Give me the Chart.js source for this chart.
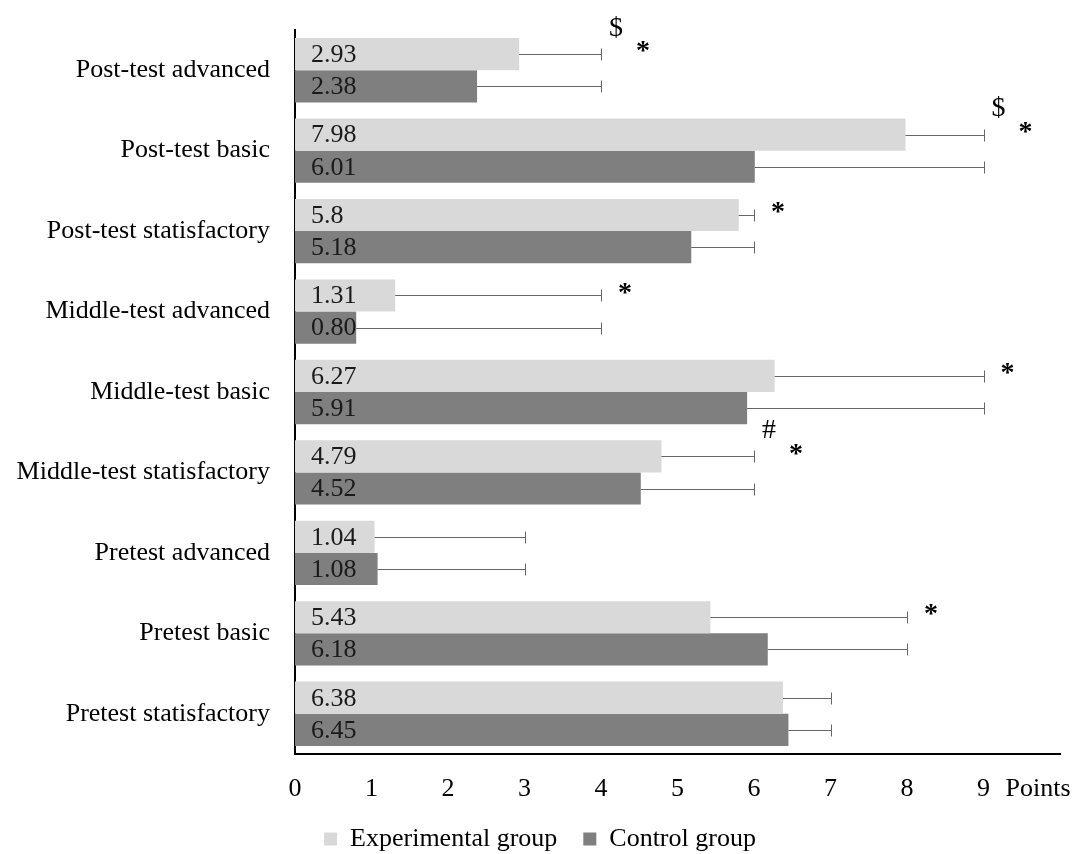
<!DOCTYPE html>
<html>
<head>
<meta charset="utf-8">
<script src="https://cdn.jsdelivr.net/npm/chart.js@4.4.0/dist/chart.umd.min.js"></script>
<style>
  html, body { margin: 0; padding: 0; background: #fff; }
  #wrap { width: 1076px; height: 854px; }
</style>
</head>
<body>
<div id="wrap"><canvas id="barChart"></canvas></div>
<script>
const categories = [
    'Post-test advanced', 'Post-test basic', 'Post-test statisfactory',
    'Middle-test advanced', 'Middle-test basic', 'Middle-test statisfactory',
    'Pretest advanced', 'Pretest basic', 'Pretest statisfactory'
];
const experimentalValues = [2.93, 7.98, 5.8, 1.31, 6.27, 4.79, 1.04, 5.43, 6.38];
const controlValues = [2.38, 6.01, 5.18, 0.80, 5.91, 4.52, 1.08, 6.18, 6.45];
const experimentalText = ['2.93', '7.98', '5.8', '1.31', '6.27', '4.79', '1.04', '5.43', '6.38'];
const controlText = ['2.38', '6.01', '5.18', '0.80', '5.91', '4.52', '1.08', '6.18', '6.45'];
const errorUpper = [4, 9, 6, 4, 9, 6, 3, 8, 7];
const upperMarks = ['$', '$', '', '', '', '#', '', '', ''];
const starMarks = ['*', '*', '*', '*', '*', '*', '', '*', ''];
const xTickLabels = ['0', '1', '2', '3', '4', '5', '6', '7', '8', '9'];
const xUnit = 'Points';

const FONT = '"Liberation Serif", "Times New Roman", serif';
Chart.defaults.font.family = FONT;
Chart.defaults.color = '#000';

// error bars, value labels, significance marks and the axis unit
const overlayPlugin = {
    id: 'overlay',
    afterLayout(chart) {
        // legend sits a little right of centre in the original
        chart.legend.left += 10;
        chart.legend.right += 10;
    },
    afterDatasetsDraw(chart) {
        const ctx = chart.ctx;
        const xs = chart.scales.x;
        const ys = chart.scales.y;
        const texts = [experimentalText, controlText];
        ctx.save();
        chart.data.datasets.forEach((ds, d) => {
            const meta = chart.getDatasetMeta(d);
            meta.data.forEach((bar, i) => {
                const endX = Math.round(xs.getPixelForValue(errorUpper[i])) + 0.5;
                const y = Math.round(bar.y) + 0.5;
                ctx.strokeStyle = '#666';
                ctx.lineWidth = 1;
                ctx.beginPath();
                ctx.moveTo(bar.x, y);
                ctx.lineTo(endX, y);
                ctx.moveTo(endX, y - 6);
                ctx.lineTo(endX, y + 6);
                ctx.stroke();

                ctx.fillStyle = '#1a1a1a';
                ctx.font = '26px ' + FONT;
                ctx.textAlign = 'left';
                ctx.textBaseline = 'middle';
                ctx.fillText(texts[d][i], xs.left + 16, bar.y + 1);
            });
        });

        const band = ys.getPixelForValue(1) - ys.getPixelForValue(0);
        ctx.fillStyle = '#000';
        ctx.textAlign = 'center';
        ctx.textBaseline = 'middle';
        categories.forEach((c, i) => {
            const endX = xs.getPixelForValue(errorUpper[i]);
            const cy = ys.getPixelForValue(i);
            if (upperMarks[i]) {
                ctx.font = '28px ' + FONT;
                ctx.fillText(upperMarks[i], endX + 15, cy - 0.52 * band);
            }
            if (starMarks[i]) {
                ctx.font = 'bold 28px ' + FONT;
                ctx.fillText(starMarks[i], endX + (upperMarks[i] ? 42 : 24), cy - 0.3 * band + 6);
            }
        });

        ctx.font = '26px ' + FONT;
        ctx.textAlign = 'left';
        ctx.fillText(xUnit, xs.getPixelForValue(9) + 22, xs.top + 35);
        ctx.restore();
    }
};

function setupBarChart() {
    const barCtx = document.getElementById('barChart').getContext('2d');
    return new Chart(barCtx, {
        type: 'bar',
        data: {
            labels: categories,
            datasets: [{
                label: 'Experimental group',
                data: experimentalValues,
                backgroundColor: '#d9d9d9',
                categoryPercentage: 0.8,
                barPercentage: 1.0
            },
            {
                label: 'Control group',
                data: controlValues,
                backgroundColor: '#7f7f7f',
                categoryPercentage: 0.8,
                barPercentage: 1.0
            }]
        },
        options: {
            indexAxis: 'y',
            responsive: true,
            maintainAspectRatio: false,
            animation: false,
            layout: {
                padding: { top: 30, right: 16, bottom: -8, left: 0 }
            },
            plugins: {
                legend: {
                    position: 'bottom',
                    labels: {
                        boxWidth: 13,
                        boxHeight: 13,
                        padding: 26,
                        color: '#000',
                        font: { size: 26 }
                    }
                },
                tooltip: { enabled: false }
            },
            scales: {
                x: {
                    min: 0,
                    max: 10,
                    grid: { display: false, drawTicks: false },
                    border: { color: '#000', width: 2 },
                    ticks: {
                        stepSize: 1,
                        padding: 20,
                        color: '#000',
                        font: { size: 26 },
                        callback: (v, i) => xTickLabels[i] ?? ''
                    },
                    afterFit: (scale) => {
                        scale.height = 46;
                        scale.paddingLeft = 0;
                        scale.paddingRight = 0;
                    }
                },
                y: {
                    grid: { display: false, drawTicks: false },
                    border: { color: '#000', width: 2 },
                    ticks: {
                        padding: 25,
                        color: '#000',
                        font: { size: 26 }
                    },
                    afterFit: (scale) => {
                        scale.width = 295;
                        scale.paddingTop = 0;
                        scale.paddingBottom = 0;
                    }
                }
            }
        },
        plugins: [overlayPlugin]
    });
}

setupBarChart();
</script>
</body>
</html>
